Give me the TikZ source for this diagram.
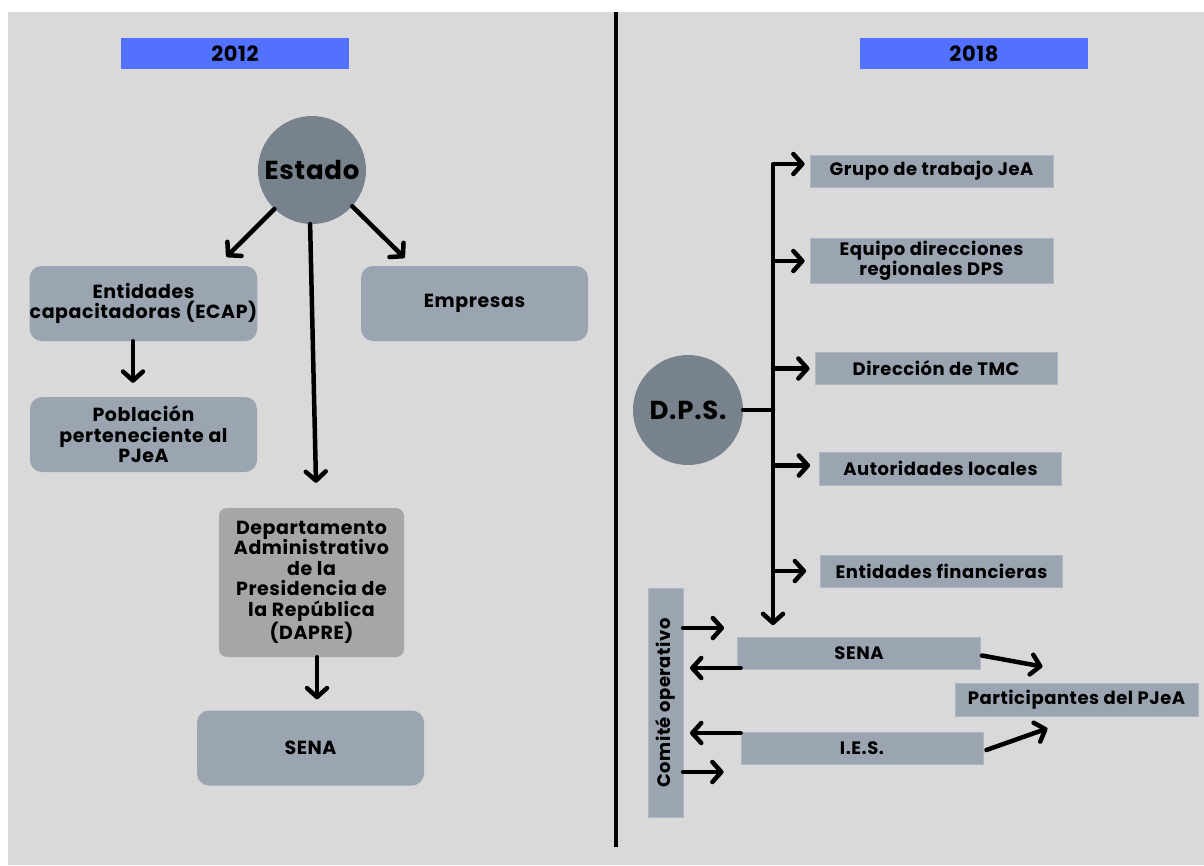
\documentclass[tikz,border=0pt]{standalone}
\usepackage{fontspec}
\setmainfont{Poppins}[LetterSpace=3]
\usetikzlibrary{arrows.meta}
\definecolor{bgc}{HTML}{D9D9D9}
\definecolor{boxc}{HTML}{9AA5B1}
\definecolor{circc}{HTML}{77828C}
\definecolor{dapc}{HTML}{A6A6A6}
\definecolor{bluec}{HTML}{5271FF}
\tikzset{
  yearbox/.style={fill=bluec, minimum width=228pt, minimum height=31pt, inner sep=0pt, font=\fontsize{21}{24}\selectfont\bfseries},
  circnode/.style={circle, fill=circc, inner sep=0pt},
  rbox/.style={fill=boxc, rounded corners=12pt, minimum width=227pt, minimum height=75pt, inner sep=0pt, align=center, font=\fontsize{19}{20.5}\selectfont\bfseries},
  sbox/.style={fill=boxc, draw=boxc!80!white, line width=0.8pt, minimum width=242pt, minimum height=32pt, inner sep=0pt, align=center, font=\fontsize{18}{19}\selectfont\bfseries},
  arr/.style={line width=4.5pt, line cap=round, line join=round, -{Straight Barb[length=9pt,width=20pt,round]}},
  plainline/.style={line width=4.5pt, line cap=round},
}
\begin{document}
\begin{tikzpicture}[x=1pt,y=-1pt]
\useasboundingbox (0,0) rectangle (1204,865);
\fill[white] (0,0) rectangle (1204,865);
\fill[bgc] (8,12) rectangle (1204,865);
\draw[line width=4pt] (616,12) -- (616,847);

% ---------- 2012 ----------
\node[yearbox] (y12) at (235,53.5) {2012};
\node[circnode, minimum size=108pt, font=\fontsize{26}{28}\selectfont\bfseries] (estado) at (312,170) {Estado};
\node[rbox] (ecap) at (143.5,303.5) {Entidades\\capacitadoras (ECAP)};
\node[rbox] (empresas) at (474.5,303.5) {Empresas};
\node[rbox] (pobl) at (143.5,434.5) {Población\\perteneciente al\\PJeA};
\node[rbox, fill=dapc, rounded corners=8pt, minimum width=185pt, minimum height=149pt] (dapre) at (311.5,582.5) {Departamento\\Administrativo\\de la\\Presidencia de\\la República\\(DAPRE)};
\node[rbox] (sena1) at (310.5,748) {SENA};

\draw[arr] (estado.226) -- ([shift={(83,-9)}]ecap.north);
\draw[arr] (estado.318) -- ([shift={(-70,-8)}]empresas.north);
\draw[arr] (estado.268) -- ([shift={(4.5,-25)}]dapre.north);
\draw[arr] ([xshift=5.5pt]dapre.south) -- ([xshift=6.5pt,yshift=11pt]sena1.north);
\draw[arr] ([xshift=-10.5pt]ecap.south) -- ([xshift=-10.5pt,yshift=14pt]pobl.north);

% ---------- 2018 ----------
\node[yearbox] (y18) at (974,53.5) {2018};
\node[circnode, minimum size=110pt, font=\fontsize{26}{28}\selectfont\bfseries] (dps) at (688,410) {D.P.S.};
\node[sbox, minimum width=243pt] (grupo) at (931.5,171) {Grupo de trabajo JeA};
\node[sbox, minimum width=243pt, minimum height=45pt] (equipo) at (931.5,261) {Equipo direcciones\\regionales DPS};
\node[sbox] (tmc) at (936,368.5) {Dirección de TMC};
\node[sbox, minimum height=33pt] (autor) at (940.5,468.5) {Autoridades locales};
\node[sbox] (finan) at (941.5,571) {Entidades financieras};
\node[sbox, minimum width=243pt] (sena2) at (859,653.5) {SENA};
\node[sbox] (ies) at (862,748) {I.E.S.};
\node[sbox, minimum width=243pt, minimum height=33pt] (part) at (1076.5,699.5) {Participantes del PJeA};
\node[sbox, minimum width=229pt, minimum height=35pt, rotate=90] (comite) at (665.5,703) {Comité operativo};

\coordinate (jd) at (773,410);
\draw[plainline] (dps.east) -- (jd);
\draw[arr] (jd) |- ([xshift=-5pt,yshift=7pt]grupo.west);
\coordinate (sb) at ([yshift=12pt]sena2.north);
\draw[arr] (jd) -- (jd |- sb);
\draw[arr] (jd |- equipo) -- ([xshift=-5pt]equipo.west);
\draw[arr] (jd |- tmc) -- ([xshift=-5pt]tmc.west);
\draw[arr] ([yshift=3pt]jd |- autor) -- ([xshift=-9pt,yshift=3pt]autor.west);
\draw[arr] (jd |- finan) -- ([xshift=-14pt]finan.west);

\draw[arr] ([shift={(17.5,-75)}]comite.center) -- ([shift={(-13,-25.5)}]sena2.west);
\draw[arr] ([shift={(3.5,14.5)}]sena2.west) -- ([shift={(24.5,-35)}]comite.center);
\draw[arr] ([shift={(0,-15)}]ies.west) -- ([shift={(24.5,30)}]comite.center);
\draw[arr] ([shift={(17.5,69)}]comite.center) -- ([shift={(-17,24)}]ies.west);

\draw[arr] ([xshift=1pt,yshift=-2pt]sena2.east) -- ([shift={(-34,-16)}]part.north);
\draw[arr] ([xshift=3pt,yshift=-2pt]ies.east) -- ([shift={(-29,12)}]part.south);
\end{tikzpicture}
\end{document}
